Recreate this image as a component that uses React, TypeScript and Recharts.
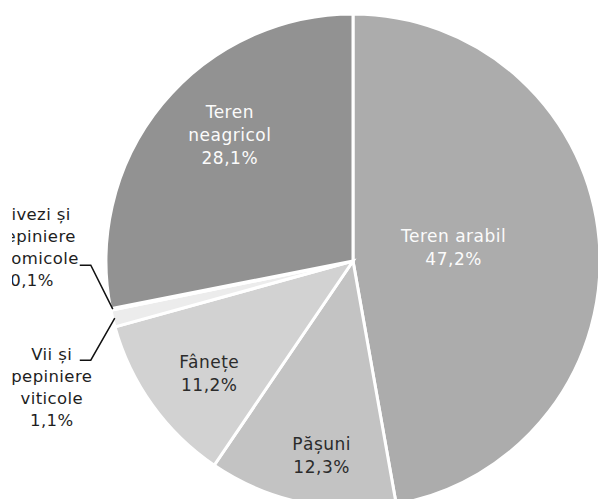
import React from 'react';
import { PieChart, Pie, Cell } from 'recharts';

// land use shares (%)
const categories = [
  'Teren arabil',
  'Pășuni',
  'Fânețe',
  'Vii și pepiniere viticole',
  'Livezi și pepiniere pomicole',
  'Teren neagricol',
];
const shares = [47.2, 12.3, 11.2, 1.1, 0.1, 28.1];
const labelLines = [
  ['Teren arabil'],
  ['Pășuni'],
  ['Fânețe'],
  ['Vii și', 'pepiniere', 'viticole'],
  ['Livezi și', 'pepiniere', 'pomicole'],
  ['Teren', 'neagricol'],
];

const COLORS = ['#acacac', '#c3c3c3', '#d2d2d2', '#ececec', '#f4f4f4', '#929292'];
const TEXT_COLORS = ['#fbfbfb', '#2b2b2b', '#2b2b2b', '#1e1e1e', '#1e1e1e', '#fbfbfb'];

// inside labels: radius along mid angle + small nudge
const inside: Record<number, { r: number; dx: number; dy: number }> = {
  0: { r: 101, dx: 0, dy: -4 },
  1: { r: 198, dx: 10, dy: 2 },
  2: { r: 183, dx: 5, dy: 7 },
  5: { r: 175, dx: 12, dy: -14 },
};

// outside labels: elbow offset from slice edge, text x per line & first baseline from elbow
const outside: Record<number, { ex: number; ey: number; anchor: string; tx: number[]; ty: number }> = {
  3: { ex: -24, ey: 42, anchor: 'middle', tx: [-39, -39, -39, -39], ty: 0 },
  4: { ex: -22, ey: -44, anchor: 'end', tx: [-20, -15, -12, -37], ty: -45 },
};

const data = categories.map((name, i) => ({ name, value: shares[i] }));

const fmt = (v: number) => `${v.toFixed(1).replace('.', ',')}%`;
const RAD = Math.PI / 180;
const FONT = '"DejaVu Sans", Verdana, sans-serif';

const renderLabel = (props: any) => {
  const { cx, cy, midAngle, outerRadius, index, value } = props;
  const lines = [...labelLines[index], fmt(value)];
  const color = TEXT_COLORS[index];

  if (inside[index]) {
    const p = inside[index];
    const ax = cx + p.r * Math.cos(-midAngle * RAD) + p.dx;
    const ay = cy + p.r * Math.sin(-midAngle * RAD) + p.dy;
    const n = lines.length;
    return (
      <text key={`l${index}`} textAnchor="middle" fill={color} fontSize={17} letterSpacing={0.5} fontFamily={FONT}>
        {lines.map((t, i) => (
          <tspan key={i} x={ax} y={ay + 5 + (i - (n - 1) / 2) * 23}>{t}</tspan>
        ))}
      </text>
    );
  }

  const o = outside[index];
  if (!o) return null;
  const r = outerRadius - 2;
  const sx = cx + r * Math.cos(-midAngle * RAD);
  const sy = cy + r * Math.sin(-midAngle * RAD);
  const bx = sx + o.ex;
  const by = sy + o.ey;
  return (
    <g key={`l${index}`}>
      <defs>
        <clipPath id={`clip${index}`}>
          <rect x={12} y={0} width={600} height={500} />
        </clipPath>
      </defs>
      <polyline points={`${sx},${sy} ${bx},${by} ${bx - 11},${by}`} fill="none" stroke="#111" strokeWidth={1.5} />
      <text textAnchor={o.anchor} fill={color} fontSize={16.5} letterSpacing={0.4} fontFamily={FONT} clipPath={`url(#clip${index})`}>
        {lines.map((t, i) => (
          <tspan key={i} x={bx + o.tx[i]} y={by + o.ty + i * 22}>{t}</tspan>
        ))}
      </text>
    </g>
  );
};

export default function App() {
  return (
    <div style={{ position: 'absolute', left: 0, top: 0, width: 598, height: 499, background: '#fff', fontFamily: FONT }}>
      <PieChart width={598} height={499} margin={{ top: 0, right: 0, bottom: 0, left: 0 }}>
        <Pie
          data={data}
          dataKey="value"
          nameKey="name"
          cx={353}
          cy={261}
          outerRadius={247}
          startAngle={90}
          endAngle={-270}
          stroke="#ffffff"
          strokeWidth={3}
          labelLine={false}
          label={renderLabel}
          isAnimationActive={false}
        >
          {data.map((d, i) => (
            <Cell key={d.name} fill={COLORS[i]} />
          ))}
        </Pie>
      </PieChart>
    </div>
  );
}
